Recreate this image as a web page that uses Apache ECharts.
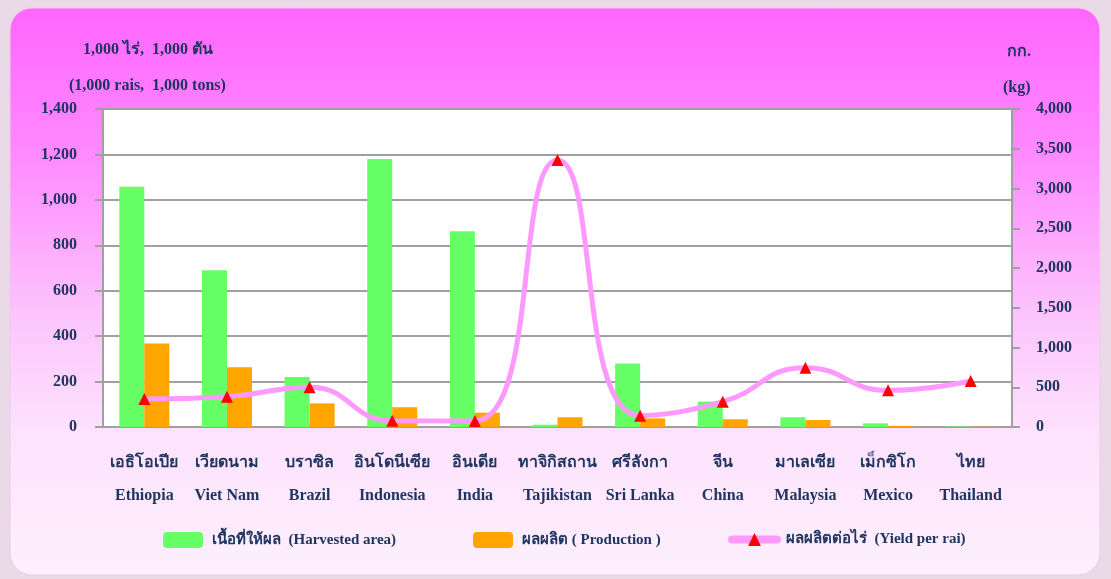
<!DOCTYPE html>
<html>
<head>
<meta charset="utf-8">
<script src="https://cdn.jsdelivr.net/npm/echarts@6/dist/echarts.min.js"></script>
<style>
html,body{margin:0;padding:0;background:#ead9e6;}
#c{width:1111px;height:579px;}
</style>
</head>
<body>
<div id="c"></div>
<script>
const categoriesThai = ['เอธิโอเปีย','เวียดนาม','บราซิล','อินโดนีเซีย','อินเดีย','ทาจิกิสถาน','ศรีลังกา','จีน','มาเลเซีย','เม็กซิโก','ไทย'];
const categoriesEn = ['Ethiopia','Viet Nam','Brazil','Indonesia','India','Tajikistan','Sri Lanka','China','Malaysia','Mexico','Thailand'];
const harvestedArea = [1058, 690, 220, 1180, 862, 10, 280, 112, 43, 16, 2];
const production = [368, 263, 104, 87, 63, 43, 38, 34, 31, 5, 1];
const yieldPerRai = [352, 381, 500, 79, 76, 3360, 142, 318, 746, 461, 579];
const seriesNames = ['เนื้อที่ให้ผล  (Harvested area)', 'ผลผลิต ( Production )', 'ผลผลิตต่อไร่  (Yield per rai)'];

const FONT = "'Liberation Serif', 'Times New Roman', serif";
const TXT = '#1f3560';
const chart = echarts.init(document.getElementById('c'), null, {renderer: 'canvas'});
const categories = categoriesEn.map((e, i) => categoriesThai[i] + '\n' + e);
const fmt = v => v.toLocaleString('en-US');
const legendText = {fontFamily: FONT, fontSize: 15, fontWeight: 'bold', color: TXT, padding: [0, 0, 0, 4]};
const titleText = {fontFamily: FONT, fontSize: 16, fontWeight: 'bold', color: TXT};

chart.setOption({
  backgroundColor: '#ead9e6',
  animation: false,
  graphic: [{
    type: 'rect', z: -10, silent: true,
    shape: {x: 10, y: 8, width: 1090, height: 567, r: 22},
    style: {
      fill: new echarts.graphic.LinearGradient(0, 0, 0, 1, [
        {offset: 0, color: '#ff66ff'},
        {offset: 0.25, color: '#ff88ff'},
        {offset: 0.55, color: '#fcc6fc'},
        {offset: 0.75, color: '#fde2fd'},
        {offset: 1, color: '#fdf0fd'}
      ]),
      stroke: '#f0c8ec', lineWidth: 1
    }
  }],
  title: [
    {text: '1,000 ไร่,  1,000 ตัน', left: 78, top: 37, textStyle: titleText},
    {text: '(1,000 rais,  1,000 tons)', left: 64, top: 73, textStyle: titleText},
    {text: 'กก.', left: 1002, top: 39, textStyle: titleText},
    {text: '(kg)', left: 998, top: 75, textStyle: titleText}
  ],
  legend: [
    {data: [seriesNames[0]], left: 158, top: 527, itemWidth: 40, itemHeight: 16, itemGap: 0, textStyle: legendText},
    {data: [seriesNames[1]], left: 468, top: 527, itemWidth: 40, itemHeight: 16, itemGap: 0, textStyle: legendText},
    {data: [seriesNames[2]], left: 723, top: 527, itemWidth: 45, itemHeight: 16, itemGap: 0, textStyle: legendText,
     lineStyle: {width: 8, cap: 'round', color: '#ff99ff'}}
  ],
  grid: {left: 103, right: 99, top: 109, bottom: 152, show: true, backgroundColor: '#ffffff', borderColor: '#a0a0a0', borderWidth: 1, containLabel: false},
  xAxis: {
    type: 'category', data: categories,
    axisLine: {lineStyle: {color: '#a0a0a0', width: 2}},
    axisTick: {show: false},
    axisLabel: {interval: 0, margin: 19, lineHeight: 33, fontFamily: FONT, fontSize: 16, fontWeight: 'bold', color: TXT}
  },
  yAxis: [
    {type: 'value', min: 0, max: 1400, interval: 200, position: 'left',
     axisLine: {show: true, lineStyle: {color: '#a0a0a0', width: 2}},
     axisTick: {show: true, length: 8, lineStyle: {color: '#a0a0a0', width: 2}},
     splitLine: {lineStyle: {color: '#a0a0a0', width: 2}},
     axisLabel: {margin: 26, formatter: fmt, fontFamily: FONT, fontSize: 16, fontWeight: 'bold', color: TXT}},
    {type: 'value', min: 0, max: 4000, interval: 500, position: 'right',
     axisLine: {show: true, lineStyle: {color: '#a0a0a0', width: 2}},
     axisTick: {show: true, length: 8, lineStyle: {color: '#a0a0a0', width: 2}},
     splitLine: {show: false},
     axisLabel: {margin: 24, formatter: fmt, fontFamily: FONT, fontSize: 16, fontWeight: 'bold', color: TXT}}
  ],
  series: [
    {name: seriesNames[0], type: 'bar', data: harvestedArea, barWidth: 25, barGap: '0%', itemStyle: {color: '#66ff66'}},
    {name: seriesNames[1], type: 'bar', data: production, barWidth: 25, barGap: '0%', itemStyle: {color: '#ffa500'}},
    {name: seriesNames[2], type: 'line', yAxisIndex: 1, data: yieldPerRai, smooth: 0.5,
     lineStyle: {color: '#ff99ff', width: 5}, itemStyle: {color: '#ff0000'},
     symbol: 'triangle', symbolSize: 12, showSymbol: true, z: 5}
  ]
});
</script>
</body>
</html>
